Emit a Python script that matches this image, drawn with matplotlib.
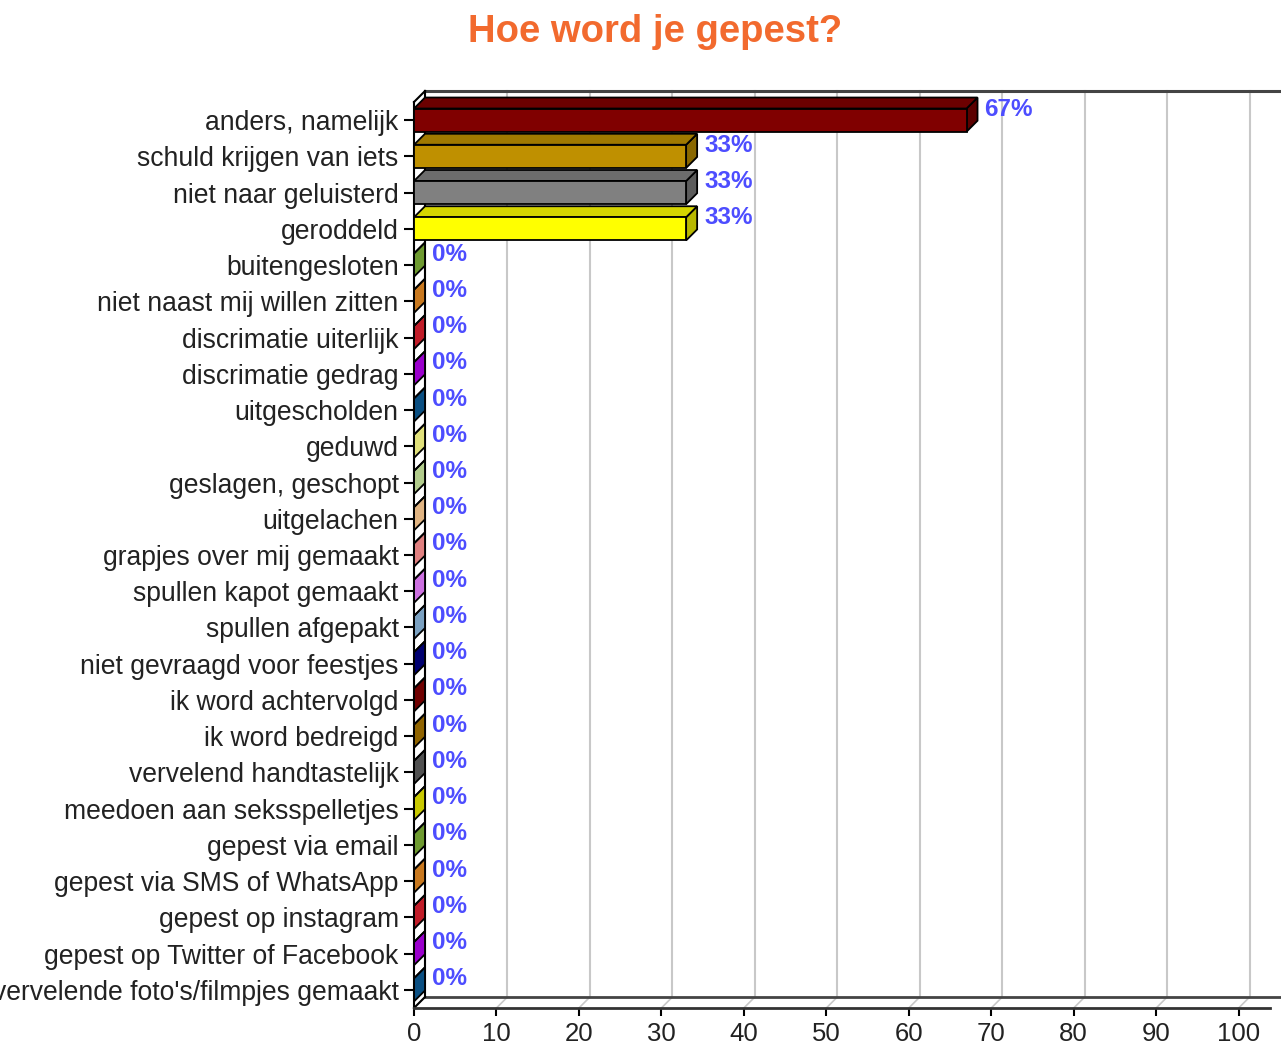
import numpy as np
import matplotlib
matplotlib.use('Agg')
from matplotlib import pyplot as plt
from matplotlib.patches import Polygon
from matplotlib import colors as mcolors

# data
categories = ['anders, namelijk', 'schuld krijgen van iets', 'niet naar geluisterd',
              'geroddeld', 'buitengesloten', 'niet naast mij willen zitten',
              'discrimatie uiterlijk', 'discrimatie gedrag', 'uitgescholden', 'geduwd',
              'geslagen, geschopt', 'uitgelachen', 'grapjes over mij gemaakt',
              'spullen kapot gemaakt', 'spullen afgepakt', 'niet gevraagd voor feestjes',
              'ik word achtervolgd', 'ik word bedreigd', 'vervelend handtastelijk',
              'meedoen aan seksspelletjes', 'gepest via email', 'gepest via SMS of WhatsApp',
              'gepest op instagram', 'gepest op Twitter of Facebook',
              "vervelende foto's/filmpjes gemaakt"]
values = [67, 33, 33, 33, 0, 0, 0, 0, 0, 0, 0, 0, 0, 0, 0, 0, 0, 0, 0, 0, 0, 0, 0, 0, 0]
labels = ['67%', '33%', '33%', '33%'] + ['0%'] * 21
bar_colors = ['#800000', '#bf9000', '#808080', '#ffff00', '#6e9a30', '#c8781e',
              '#c01c28', '#9a00cc', '#0a4f82', '#e0e07a', '#b2cc8c', '#e0b482',
              '#e08080', '#cc70e0', '#7aa0c0', '#000070', '#700000', '#906400',
              '#505050', '#c8c800', '#6e9a30', '#c8781e', '#c01c28', '#9a00cc',
              '#0a4f82']
xticks = [0, 10, 20, 30, 40, 50, 60, 70, 80, 90, 100]

plt.rcParams['font.family'] = ['Liberation Sans', 'DejaVu Sans']

W, H = 1281, 1044
fig = plt.figure(figsize=(W / 100, H / 100), dpi=100)
ax = fig.add_axes([414 / W, (H - 1008) / H, (1270 - 414) / W, 906 / H])

xmax = 103.8
n = len(categories)
ax.set_xlim(0, xmax)
ax.set_ylim(n - 0.5, -0.5)

# 3d depth in data units (about 11 px each way)
dx = 11 / (856 / xmax)
dy = 11 / (906 / n)
h = 0.64

def shade(c, f):
    r, g, b = mcolors.to_rgb(c)
    return (r * f, g * f, b * f)

# back wall, grid and floor
y_bot = n - 0.5
y_top = -0.5
for t in xticks:
    ax.plot([t + dx, t + dx], [y_bot - dy, y_top - dy], color='#c8c8c8', lw=1.5, zorder=1, clip_on=False)
    ax.plot([t, t + dx], [y_bot, y_bot - dy], color='#c8c8c8', lw=1.2, zorder=1, clip_on=False)
ax.plot([dx, xmax + dx], [y_top - dy, y_top - dy], color='#444444', lw=2.2, zorder=2, clip_on=False)
ax.plot([dx, xmax + dx], [y_bot - dy, y_bot - dy], color='#444444', lw=2, zorder=2, clip_on=False)
ax.plot([dx, dx], [y_bot - dy, y_top - dy], color='black', lw=1.5, zorder=2, clip_on=False)
ax.plot([0, dx], [y_top, y_top - dy], color='black', lw=1.5, zorder=2, clip_on=False)
ax.plot([0, dx], [y_bot, y_bot - dy], color='black', lw=1.5, zorder=2, clip_on=False)

# bars
ypos = np.arange(n)
for i, (v, c) in enumerate(zip(values, bar_colors)):
    y0 = ypos[i] - h / 2
    y1 = ypos[i] + h / 2
    top = [(0, y0), (v, y0), (v + dx, y0 - dy), (dx, y0 - dy)]
    side = [(v, y0), (v + dx, y0 - dy), (v + dx, y1 - dy), (v, y1)]
    side_c = shade(c, 0.72) if v > 0 else c
    ax.add_patch(Polygon(side, closed=True, fc=side_c, ec='black', lw=1.3, zorder=3, clip_on=False))
    ax.add_patch(Polygon(top, closed=True, fc=shade(c, 0.84), ec='black', lw=1.3, zorder=3, clip_on=False))
ax.barh(ypos, values, height=h, color=bar_colors, edgecolor='black', linewidth=1.3, zorder=4)

for i, (v, lab) in enumerate(zip(values, labels)):
    ax.annotate(lab, (v + dx, ypos[i] - dy), xytext=(7, 0), textcoords='offset pixels',
                ha='left', va='center', color='#4d4dff', fontsize=17.5, fontweight='bold',
                zorder=5, annotation_clip=False)

ax.set_yticks(ypos)
ax.set_yticklabels(categories)
ax.set_xticks(xticks)
ax.tick_params(axis='y', length=7, width=1.5, pad=4, labelsize=19.1, labelcolor='#222222')
ax.tick_params(axis='x', length=6, width=1.5, pad=4, labelsize=18.5, labelcolor='#222222')
for s in ['top', 'right']:
    ax.spines[s].set_visible(False)
ax.spines['left'].set_linewidth(1.5)
ax.spines['bottom'].set_linewidth(2)
ax.spines['bottom'].set_color('#333333')
ax.set_facecolor('none')

fig.text(655 / W, 1 - 32 / H, 'Hoe word je gepest?', ha='center', va='center',
         color='#f26a2e', fontsize=27.5, fontweight='bold')

fig.savefig('out.png', dpi=100)
